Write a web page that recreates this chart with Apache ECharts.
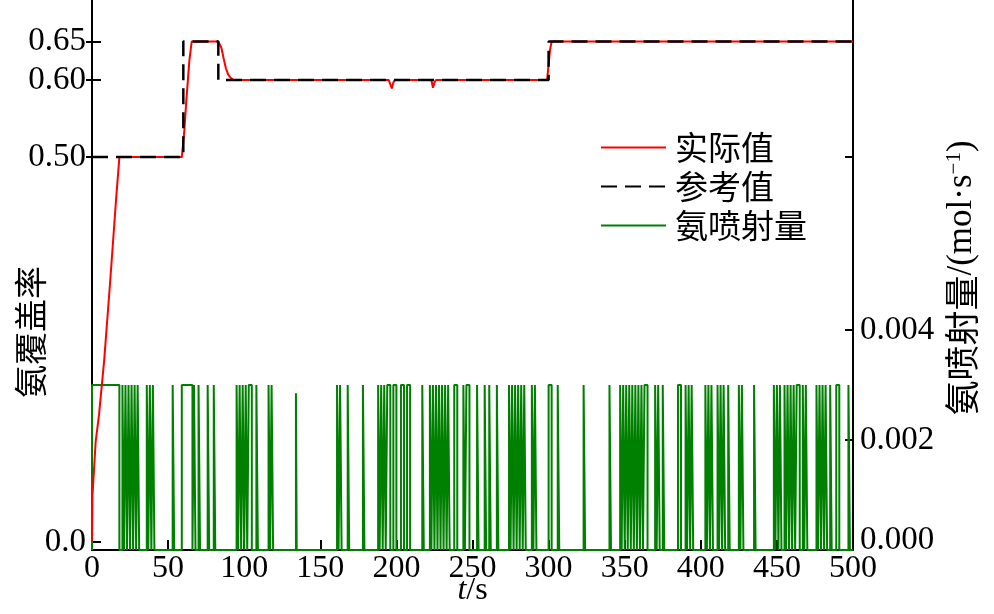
<!DOCTYPE html>
<html><head><meta charset="utf-8">
<script src="https://cdn.jsdelivr.net/npm/echarts@6/dist/echarts.min.js"></script>
<style>html,body{margin:0;padding:0;background:#fff}#c{width:994px;height:614px}</style>
</head><body><div id="c"></div>
<script>
// ---- data ----
const xTickVals = [0, 50, 100, 150, 200, 250, 300, 350, 400, 450, 500];
const leftTickVals = [0, 0.5, 0.6, 0.65];
const rightTickVals = [0, 0.002, 0.004];
const seriesNames = ['实际值', '参考值', '氨喷射量'];

// reference coverage (step changes)
const refT = [0, 60, 83, 300, 500];
const refV = [0.5, 0.65, 0.6, 0.65, 0.65];

// actual coverage
const actT = [0, 0.3, 2.4, 4.6, 8, 12, 16, 18, 59, 60.5, 62, 63, 64, 65.5, 83, 85, 86.5, 88, 89.5, 91, 93, 195, 196, 197, 198, 199, 223, 224, 225, 226, 299, 300, 301, 302, 500];
const actV = [0, 0.06, 0.13, 0.165, 0.236, 0.34, 0.45, 0.5, 0.5, 0.53, 0.574, 0.6, 0.626, 0.65, 0.65, 0.642, 0.628, 0.615, 0.607, 0.603, 0.6, 0.6, 0.598, 0.589, 0.597, 0.6, 0.6, 0.59, 0.597, 0.6, 0.6, 0.62, 0.64, 0.65, 0.65];

// ammonia injection pulses: [start s, end s, level mol/s]
const sprayPulses = [
 [0,18,0.003],[20,21,0.003],[22,23,0.003],[24,25,0.003],[26,27,0.003],[28,29,0.003],[30,31,0.003],
 [36,37,0.003],[38,39,0.003],[40,41,0.003],[53,54,0.003],[59,66,0.003],[67,68,0.003],[70,71,0.003],
 [76,77,0.003],[80,81,0.003],[95,96,0.003],[97,98,0.003],[99,100,0.003],[101,102,0.003],[103,105,0.003],
 [108,109,0.003],[116,117,0.003],[118,119,0.003],[134,134.5,0.00285],[161,162,0.003],[163,164,0.003],
 [168,169,0.003],[178,179,0.003],[188,189,0.003],[190,191,0.003],[192,193,0.003],[194,196,0.003],
 [198,200,0.003],[203,205,0.003],[207,209,0.003],[217,218,0.003],[222,223,0.003],[224,225,0.003],
 [226,227,0.003],[228,229,0.003],[230,231,0.003],[232,233,0.003],[234,235,0.003],[238,240,0.003],
 [244,245,0.003],[246,248,0.003],[253,254,0.003],[258,259,0.003],[261,262,0.003],[266,267,0.003],
 [274,275,0.003],[276,277,0.003],[278,279,0.003],[280,281,0.003],[282,283,0.003],[284,285,0.003],
 [289,290,0.003],[291,292,0.003],[300,302,0.003],[306,307,0.003],[323,324,0.003],[340,341,0.003],
 [347,348,0.003],[349,350,0.003],[351,352,0.003],[353,354,0.003],[355,356,0.003],[357,358,0.003],
 [359,360,0.003],[361,362,0.003],[363,365,0.003],[370,371,0.003],[372,373,0.003],[375,376,0.003],
 [385,387,0.003],[390,391,0.003],[392,393,0.003],[394,395,0.003],[403,404,0.003],[405,406,0.003],
 [407,408,0.003],[411,412,0.003],[413,414,0.003],[415,416,0.003],[418,419,0.003],[425,426,0.003],
 [427,428,0.003],[435,436,0.003],[448,449,0.003],[450,451,0.003],[452,453,0.003],[455,456,0.003],
 [457,458,0.003],[459,460,0.003],[461,462,0.003],[463,465,0.003],[467,468,0.003],[469,470,0.003],
 [476,477,0.003],[478,479,0.003],[480,481,0.003],[482,483,0.003],[485,486,0.003],[489,491,0.003],
 [497,498,0.003]
];
const tEnd = 500;

// ---- build series data ----
const actData = actT.map((t, i) => [t, actV[i]]);
const refData = refT.map((t, i) => [t, refV[i]]);
const sprayData = [];
sprayPulses.forEach(p => {
  sprayData.push([p[0], 0], [p[0], p[2]], [p[1], p[2]], [p[1], 0]);
});
sprayData.push([tEnd, 0]);

const SERIF = '"Liberation Serif","Times New Roman",serif';
const CJK = '"Noto Sans CJK SC",sans-serif';
const LMIN = -0.0104, LMAX = 0.704;

const chart = echarts.init(document.getElementById('c'));
chart.setOption({
  animation: false,
  backgroundColor: '#fff',
  grid: { left: 92, right: 141, top: 0, bottom: 64, containLabel: false, outerBoundsMode: 'none' },
  legend: {
    orient: 'vertical', left: 600, top: 131, padding: 0, itemWidth: 65, itemHeight: 2, itemGap: 6,
    data: seriesNames,
    itemStyle: { opacity: 0 },
    textStyle: { fontFamily: CJK, fontSize: 33, color: '#000', padding: [0, 0, 0, 4] }
  },
  xAxis: {
    type: 'value', min: 0, max: 500, interval: 50,
    axisLine: { onZero: false, lineStyle: { color: '#000', width: 2 } },
    axisTick: { inside: true, length: 10, lineStyle: { color: '#000', width: 2 } },
    axisLabel: { fontFamily: SERIF, fontSize: 32, color: '#000', margin: 3, showMinLabel: true, showMaxLabel: true },
    splitLine: { show: false },
    name: '{i|t}/s', nameLocation: 'middle', nameGap: 25, nameMoveOverlap: false,
    nameTextStyle: { fontFamily: SERIF, fontSize: 32, color: '#000',
      rich: { i: { fontFamily: SERIF, fontSize: 32, fontStyle: 'italic', color: '#000' } } }
  },
  yAxis: [
    { type: 'value', position: 'left', min: LMIN, max: LMAX,
      axisLine: { show: true, onZero: false, lineStyle: { color: '#000', width: 2 } },
      axisTick: { show: true, inside: true, length: 9, customValues: leftTickVals, lineStyle: { color: '#000', width: 2 } },
      axisLabel: { customValues: leftTickVals, fontFamily: SERIF, fontSize: 33, color: '#000', margin: 6,
        formatter: v => (v === 0 ? '0.0' : v.toFixed(2)) },
      splitLine: { show: false } },
    { type: 'value', position: 'right', min: 0, max: 0.01,
      axisLine: { show: true, onZero: false, lineStyle: { color: '#000', width: 2 } },
      axisTick: { show: true, inside: true, length: 8, customValues: rightTickVals, lineStyle: { color: '#000', width: 2 } },
      axisLabel: { customValues: rightTickVals, fontFamily: SERIF, fontSize: 33, color: '#000', margin: 7,
        formatter: v => (v === 0 ? '{z|' + v.toFixed(3) + '}' : v.toFixed(3)),
        rich: { z: { fontFamily: SERIF, fontSize: 33, color: '#000', padding: [0, 0, 20, 0] } } },
      splitLine: { show: false } },
    { type: 'value', position: 'left', min: LMIN, max: LMAX,
      axisLine: { show: false, onZero: false },
      axisTick: { show: true, inside: false, length: 6, customValues: [0.5, 0.6, 0.65], lineStyle: { color: '#000', width: 2 } },
      axisLabel: { show: false }, splitLine: { show: false } },
    { type: 'value', position: 'right', min: LMIN, max: LMAX,
      axisLine: { show: false, onZero: false },
      axisTick: { show: true, inside: true, length: 8, customValues: [0.5], lineStyle: { color: '#000', width: 2 } },
      axisLabel: { show: false }, splitLine: { show: false } }
  ],
  series: [
    { name: seriesNames[2], type: 'line', yAxisIndex: 1, data: sprayData, symbol: 'none',
      lineStyle: { color: '#008000', width: 2 }, itemStyle: { color: '#008000' }, z: 2 },
    { name: seriesNames[0], type: 'line', yAxisIndex: 0, data: actData, symbol: 'none',
      lineStyle: { color: '#ff0000', width: 2 }, itemStyle: { color: '#ff0000' }, z: 3 },
    { name: seriesNames[1], type: 'line', yAxisIndex: 0, data: refData, step: 'end', symbol: 'none',
      lineStyle: { color: '#000', width: 2.5, type: [16, 8] }, itemStyle: { color: '#000' }, z: 4 }
  ],
  graphic: [
    { type: 'text', x: 30, y: 332, rotation: Math.PI / 2, silent: true,
      style: { text: '氨覆盖率', font: '33px ' + CJK, fill: '#000', align: 'center', verticalAlign: 'middle' } },
    { type: 'text', x: 962, y: 278, rotation: Math.PI / 2, silent: true,
      style: { text: '氨喷射量{s|/(mol·s}{sup|−1}{s|)}', font: '35px ' + CJK, fill: '#000',
        align: 'center', verticalAlign: 'middle',
        rich: { s: { fontFamily: SERIF, fontSize: 35, fill: '#000' },
                sup: { fontFamily: SERIF, fontSize: 21, fill: '#000', verticalAlign: 'top', padding: [0, 0, 15, 0] } } } }
  ]
});
</script></body></html>
